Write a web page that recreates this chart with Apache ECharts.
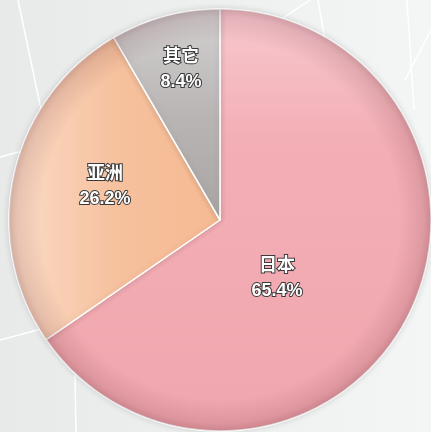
<!DOCTYPE html>
<html>
<head>
<meta charset="utf-8">
<script src="https://cdn.jsdelivr.net/npm/echarts@6/dist/echarts.min.js"></script>
<style>
html,body{margin:0;padding:0;}
#main{width:431px;height:432px;}
</style>
</head>
<body>
<div id="main"></div>
<script>
// Data
const categories = ['日本', '亚洲', '其它'];
const shares = [65.4, 26.2, 8.4];

// Label anchor positions (layout, px)
const labelAnchors = [[277, 279], [105, 187], [181, 70]];

const chart = echarts.init(document.getElementById('main'));

const CX = 220, CY = 220, R = 211;

function lin(x1, y1, x2, y2, stops) {
  return { type: 'linear', x: x1, y: y1, x2: x2, y2: y2, global: true,
    colorStops: stops.map(s => ({ offset: s[0], color: s[1] })) };
}

const sliceFills = [
  lin(0, 10, 0, 432, [[0, '#f7c8ce'], [0.3, '#f3afb6'], [1, '#f1a6ae']]),
  lin(10, 0, 220, 0, [[0, '#fbdcc8'], [0.5, '#f6c19e'], [1, '#f5ba92']]),
  lin(0, 10, 0, 220, [[0, '#d3d0d0'], [0.5, '#b9b5b5'], [1, '#a9a5a5']])
];

const bgLines = [
  [[18, 0], [60, 200]],
  [[0, 157], [40, 146]],
  [[0, 340], [60, 324]],
  [[75, 375], [76, 432]],
  [[283, 18], [310, 0]],
  [[318, 0], [332, 80]],
  [[407, 0], [414, 110]],
  [[405, 80], [431, 30]]
];

const option = {
  backgroundColor: lin(0, 0, 431, 0, [[0, '#e8e9e9'], [1, '#f4f5f5']]),
  animation: false,
  graphic: bgLines.map(l => ({
    type: 'line', z: -10, silent: true,
    shape: { x1: l[0][0], y1: l[0][1], x2: l[1][0], y2: l[1][1] },
    style: { stroke: '#ffffff', lineWidth: 1.5 }
  })),
  series: [
    {
      type: 'pie',
      center: [CX, CY],
      radius: R,
      startAngle: 90,
      clockwise: true,
      percentPrecision: 1,
      itemStyle: { borderColor: '#ffffff', borderWidth: 1.5,
        shadowBlur: 6, shadowColor: 'rgba(0,0,0,0.12)' },
      label: {
        show: true,
        position: 'inside',
        formatter: '{b}\n{d}%',
        color: '#ffffff',
        fontFamily: 'Liberation Sans, Noto Sans CJK SC, sans-serif',
        fontWeight: 'bold',
        fontSize: 18,
        lineHeight: 25,
        textBorderColor: '#3a3a3a',
        textBorderWidth: 2,
        align: 'center'
      },
      labelLine: { show: false },
      labelLayout: function (params) {
        const p = labelAnchors[params.dataIndex];
        return { x: p[0], y: p[1], align: 'center', verticalAlign: 'middle' };
      },
      emphasis: { disabled: true },
      data: categories.map((c, i) => ({ name: c, value: shares[i], itemStyle: { color: sliceFills[i] } })),
      z: 1
    },
    {
      type: 'pie',
      center: [CX, CY],
      radius: R,
      silent: true,
      startAngle: 90,
      label: { show: false },
      labelLine: { show: false },
      itemStyle: {
        borderWidth: 0,
        color: { type: 'radial', x: CX, y: CY, r: R, global: true,
          colorStops: [
            { offset: 0, color: 'rgba(90,30,40,0)' },
            { offset: 0.85, color: 'rgba(90,30,40,0)' },
            { offset: 0.96, color: 'rgba(90,30,40,0.12)' },
            { offset: 1, color: 'rgba(90,30,40,0.22)' }
          ] }
      },
      emphasis: { disabled: true },
      data: [{ name: 'shade', value: 1 }],
      z: 2
    }
  ]
};
chart.setOption(option);
</script>
</body>
</html>
